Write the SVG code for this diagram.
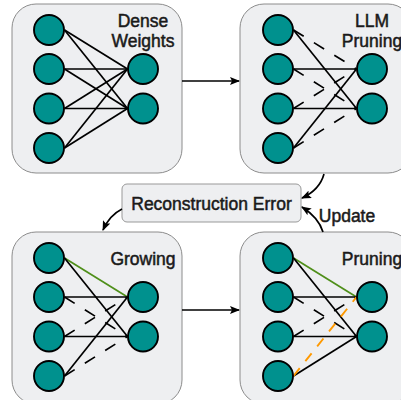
<svg xmlns="http://www.w3.org/2000/svg" width="401" height="400" viewBox="0 0 401 400">
<style>
.panel{fill:#eeeff1;stroke:#8c8c8c;stroke-width:1}
.box{fill:#eeeff1;stroke:#999;stroke-width:1}
.n{fill:#00918e;stroke:#000;stroke-width:1.9}
.t{font-family:"Liberation Sans",Arial,sans-serif;font-size:17.5px;fill:#1a1a1a;stroke:#1a1a1a;stroke-width:0.5;text-anchor:middle}
.e{stroke:#000;stroke-width:1.7;fill:none}
.d{stroke:#000;stroke-width:1.7;fill:none;stroke-dasharray:12 12}
.g{stroke:#4f8f1a;stroke-width:1.7;fill:none}
.o{stroke:#ff9900;stroke-width:1.9;fill:none;stroke-dasharray:10 9}
.a{stroke:#000;stroke-width:1.7;fill:none;marker-end:url(#ah)}
</style>
<defs>
<marker id="ah" markerWidth="10" markerHeight="8" refX="9" refY="4" orient="auto" markerUnits="userSpaceOnUse">
<path d="M0,0 L10,4 L0,8 L2,4 z" fill="#000"/>
</marker>
<g id="nodeset">
<circle class="n" cx="49" cy="30" r="15"/>
<circle class="n" cx="49" cy="69" r="15"/>
<circle class="n" cx="49" cy="108.5" r="15"/>
<circle class="n" cx="49" cy="148" r="15"/>
<circle class="n" cx="143" cy="69" r="15"/>
<circle class="n" cx="143" cy="108.5" r="15"/>
</g>
</defs>
<g id="panels">
<g id="dense-weights">
<rect class="panel" x="12" y="4" width="170" height="169" rx="24"/>
<text class="t" x="143" y="27">Dense</text>
<text class="t" x="143" y="47">Weights</text>
</g>
<g id="llm-pruning">
<rect class="panel" x="240" y="4" width="172" height="169" rx="24"/>
<text class="t" x="372" y="27">LLM</text>
<text class="t" x="372" y="47">Pruning</text>
</g>
<g id="growing">
<rect class="panel" x="12" y="232" width="170" height="172" rx="24"/>
<text class="t" x="143" y="265">Growing</text>
</g>
<g id="pruning">
<rect class="panel" x="240" y="232" width="172" height="172" rx="24"/>
<text class="t" x="372" y="265">Pruning</text>
</g>
<g id="reconstruction-error">
<rect class="box" x="122" y="184" width="179" height="38" rx="5"/>
<text class="t" x="211.5" y="210">Reconstruction Error</text>
</g>
<text class="t" x="347" y="222">Update</text>
</g>
<g id="connectors">
<line class="a" x1="182" y1="81" x2="239" y2="81"/>
<line class="a" x1="182" y1="310" x2="239" y2="310"/>
<path class="a" d="M324,174 C321,185 313,193 302,198"/>
<path class="a" d="M323,232 C320,222 313,214 302,207"/>
<path class="a" d="M122,209 C114,213 107,221 103,230"/>
<g id="dense-edges">
<line class="e" x1="64.5" y1="30" x2="127.5" y2="69"/>
<line class="e" x1="64.5" y1="30" x2="127.5" y2="108.5"/>
<line class="e" x1="64.5" y1="69" x2="127.5" y2="69"/>
<line class="e" x1="64.5" y1="69" x2="127.5" y2="108.5"/>
<line class="e" x1="64.5" y1="108.5" x2="127.5" y2="69"/>
<line class="e" x1="64.5" y1="108.5" x2="127.5" y2="108.5"/>
<line class="e" x1="64.5" y1="148" x2="127.5" y2="69"/>
<line class="e" x1="64.5" y1="148" x2="127.5" y2="108.5"/>
</g>
<g id="llm-edges" transform="translate(229,0)">
<line class="e" x1="64.5" y1="30" x2="127.5" y2="108.5"/>
<line class="e" x1="64.5" y1="69" x2="127.5" y2="69"/>
<line class="e" x1="64.5" y1="108.5" x2="127.5" y2="108.5"/>
<line class="e" x1="64.5" y1="148" x2="127.5" y2="69"/>
<line class="d" x1="64.5" y1="30" x2="127.5" y2="69"/>
<line class="d" x1="64.5" y1="69" x2="127.5" y2="108.5"/>
<line class="d" x1="64.5" y1="108.5" x2="127.5" y2="69"/>
<line class="d" x1="64.5" y1="148" x2="127.5" y2="108.5"/>
</g>
<g id="growing-edges" transform="translate(0,228)">
<line class="g" x1="64.5" y1="30" x2="127.5" y2="69"/>
<line class="e" x1="64.5" y1="30" x2="127.5" y2="108.5"/>
<line class="e" x1="64.5" y1="69" x2="127.5" y2="69"/>
<line class="e" x1="64.5" y1="108.5" x2="127.5" y2="108.5"/>
<line class="e" x1="64.5" y1="148" x2="127.5" y2="69"/>
<line class="d" x1="64.5" y1="69" x2="127.5" y2="108.5"/>
<line class="d" x1="64.5" y1="108.5" x2="127.5" y2="69"/>
<line class="d" x1="64.5" y1="148" x2="127.5" y2="108.5"/>
</g>
<g id="pruning-edges" transform="translate(229,228)">
<line class="g" x1="64.5" y1="30" x2="127.5" y2="69"/>
<line class="e" x1="64.5" y1="30" x2="127.5" y2="108.5"/>
<line class="e" x1="64.5" y1="69" x2="127.5" y2="69"/>
<line class="e" x1="64.5" y1="108.5" x2="127.5" y2="108.5"/>
<line class="e" x1="64.5" y1="148" x2="127.5" y2="108.5"/>
<line class="d" x1="64.5" y1="69" x2="127.5" y2="108.5"/>
<line class="d" x1="64.5" y1="108.5" x2="127.5" y2="69"/>
<line class="o" x1="64.5" y1="148" x2="127.5" y2="69"/>
</g>
</g>
<g id="nodes">
<g id="dense-nodes"><use href="#nodeset"/></g>
<g id="llm-nodes"><use href="#nodeset" transform="translate(229,0)"/></g>
<g id="growing-nodes"><use href="#nodeset" transform="translate(0,228)"/></g>
<g id="pruning-nodes"><use href="#nodeset" transform="translate(229,228)"/></g>
</g>
</svg>
